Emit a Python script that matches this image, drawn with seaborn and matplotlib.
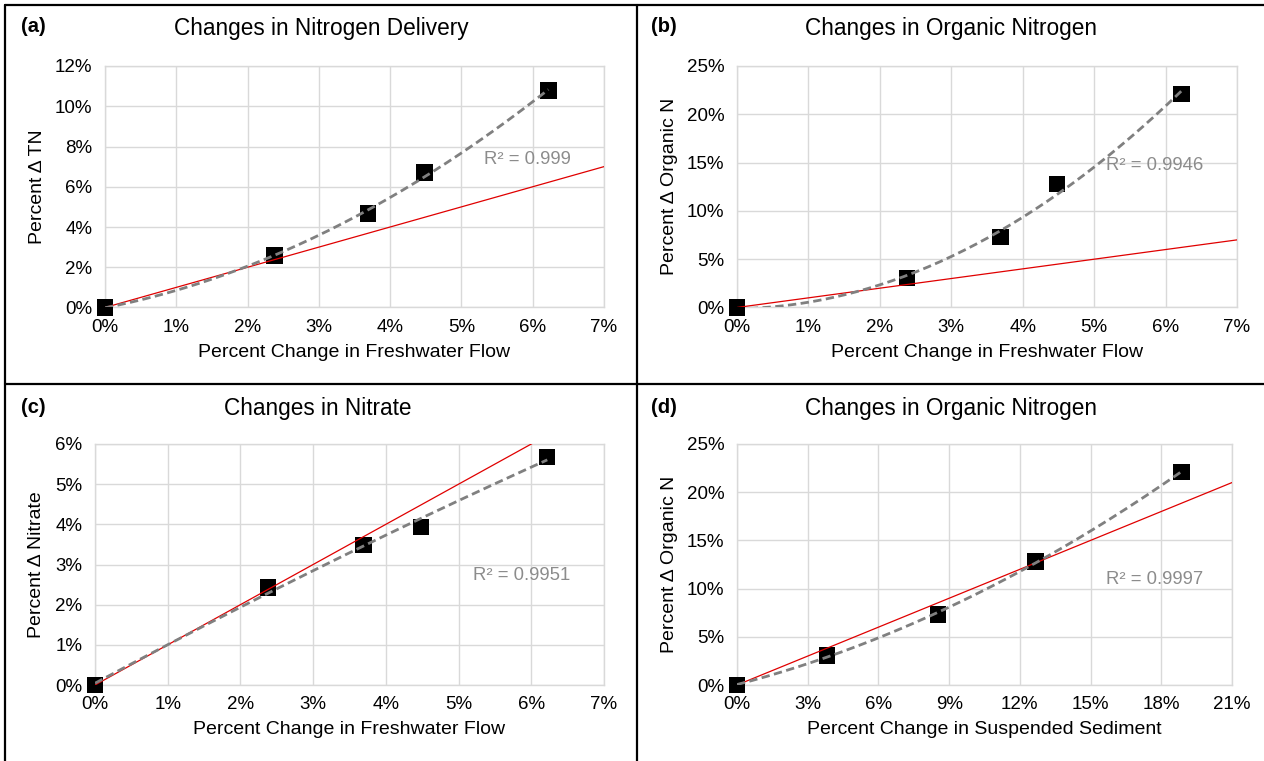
import numpy as np
import pandas as pd
import matplotlib
matplotlib.use("Agg")
import matplotlib.pyplot as plt
from matplotlib.lines import Line2D
import seaborn as sns

# ---- data (percent changes relative to the base scenario) ----
flow_change = [0.0, 2.38, 3.69, 4.48, 6.22]          # freshwater flow
sediment_change = [0.0, 3.83, 8.52, 12.66, 18.85]    # suspended sediment

tn_change = [0.0, 2.59, 4.68, 6.70, 10.78]           # total nitrogen delivery
organic_n_change = [0.0, 3.06, 7.30, 12.80, 22.10]   # organic nitrogen
nitrate_change = [0.0, 2.43, 3.49, 3.94, 5.68]       # nitrate

panel_tags = ["(a)", "(b)", "(c)", "(d)"]
titles = ["Changes in Nitrogen Delivery", "Changes in Organic Nitrogen",
          "Changes in Nitrate", "Changes in Organic Nitrogen"]
x_labels = ["Percent Change in Freshwater Flow", "Percent Change in Freshwater Flow",
            "Percent Change in Freshwater Flow", "Percent Change in Suspended Sediment"]
y_labels = ["Percent \u0394 TN", "Percent \u0394 Organic N",
            "Percent \u0394 Nitrate", "Percent \u0394 Organic N"]
r2_labels = ["R\u00b2 = 0.999", "R\u00b2 = 0.9946", "R\u00b2 = 0.9951", "R\u00b2 = 0.9997"]

flow_ticks = [0, 1, 2, 3, 4, 5, 6, 7]
sediment_ticks = [0, 3, 6, 9, 12, 15, 18, 21]
tn_ticks = [0, 2, 4, 6, 8, 10, 12]
organic_ticks = [0, 5, 10, 15, 20, 25]
nitrate_ticks = [0, 1, 2, 3, 4, 5, 6]

# ---- styling ----
sns.set_theme(style="white")
plt.rcParams["font.family"] = ["Liberation Sans", "DejaVu Sans"]

W, H = 1264, 761
fig = plt.figure(figsize=(W / 100, H / 100), dpi=100)
fig.patch.set_facecolor("white")


def fx(px):
    return px / W


def fy(py):
    return 1 - py / H


GRID = "#d9d9d9"
TREND = "#808080"
ONE_TO_ONE = "#e00000"

# per panel: data, ticks, plot box in pixels (left, top, right, bottom), text anchors
panels = [
    dict(x=flow_change, y=tn_change, xt=flow_ticks, yt=tn_ticks,
         box=(105, 66, 604, 307.5), tag=(33, 27), title=(321, 28), r2=(527, 160), ylab=38),
    dict(x=flow_change, y=organic_n_change, xt=flow_ticks, yt=organic_ticks,
         box=(737, 66, 1237, 307.5), tag=(664, 27), title=(951, 28), r2=(1155, 165), ylab=669),
    dict(x=flow_change, y=nitrate_change, xt=flow_ticks, yt=nitrate_ticks,
         box=(95, 444, 604, 685), tag=(33, 407), title=(318, 408), r2=(522, 575), ylab=37),
    dict(x=sediment_change, y=organic_n_change, xt=sediment_ticks, yt=organic_ticks,
         box=(737, 444, 1232, 685), tag=(664, 407), title=(951, 408), r2=(1155, 580), ylab=669),
]

for i, p in enumerate(panels):
    left, top, right, bottom = p["box"]
    ax = fig.add_axes([fx(left), fy(bottom), (right - left) / W, (bottom - top) / H])
    ax.set_facecolor("white")

    pts = pd.DataFrame({"x": p["x"], "y": p["y"]})

    # observed responses
    sns.scatterplot(data=pts, x="x", y="y", marker="s", s=140, color="black",
                    edgecolor="none", linewidth=0, ax=ax, zorder=3, clip_on=False)

    # 1:1 reference line
    ref = pd.DataFrame({"x": [0, p["xt"][-1]], "y": [0, p["xt"][-1]]})
    sns.lineplot(data=ref, x="x", y="y", color=ONE_TO_ONE, linewidth=0.9,
                 ax=ax, zorder=4, sort=False, estimator=None)

    # second-order polynomial trendline
    coef = np.polyfit(p["x"], p["y"], 2)
    xs = np.linspace(0, max(p["x"]), 150)
    fit = pd.DataFrame({"x": xs, "y": np.polyval(coef, xs)})
    sns.lineplot(data=fit, x="x", y="y", color=TREND, linewidth=2.0,
                 linestyle=(0, (3, 1.6)), ax=ax, zorder=5, sort=False, estimator=None)

    ax.set_xlim(0, p["xt"][-1])
    ax.set_ylim(0, p["yt"][-1])
    ax.set_xticks(p["xt"])
    ax.set_yticks(p["yt"])
    ax.set_xticklabels([f"{t}%" for t in p["xt"]])
    ax.set_yticklabels([f"{t}%" for t in p["yt"]])
    ax.tick_params(axis="both", length=0, labelsize=13.5, colors="black")
    ax.tick_params(axis="x", pad=8)
    ax.tick_params(axis="y", pad=9)
    ax.grid(True, color=GRID, linewidth=1)
    ax.set_axisbelow(True)
    for sp in ax.spines.values():
        sp.set_visible(True)
        sp.set_color(GRID)
        sp.set_linewidth(1)

    ax.set_xlabel(x_labels[i], fontsize=14, color="black")
    ax.set_ylabel(y_labels[i], fontsize=14, color="black")
    ax.xaxis.label.set_va("center")
    ax.yaxis.label.set_va("center")
    ax.xaxis.set_label_coords(0.5, -45.0 / (bottom - top))
    ax.yaxis.set_label_coords((p["ylab"] - left) / (right - left), 0.5)

    fig.text(fx(p["tag"][0]), fy(p["tag"][1]), panel_tags[i], fontsize=14.5,
             fontweight="bold", ha="center", va="center", color="black")
    fig.text(fx(p["title"][0]), fy(p["title"][1]), titles[i], fontsize=16.3,
             ha="center", va="center", color="black")
    fig.text(fx(p["r2"][0]), fy(p["r2"][1]), r2_labels[i], fontsize=13.3,
             ha="center", va="center", color="#8c8c8c")

# panel frame lines
frame = dict(color="black", linewidth=1.6, transform=fig.transFigure)
fig.add_artist(Line2D([fx(5), fx(W)], [fy(5), fy(5)], **frame))
fig.add_artist(Line2D([fx(5), fx(5)], [fy(5), fy(H)], **frame))
fig.add_artist(Line2D([fx(636.5), fx(636.5)], [fy(5), fy(H)], **frame))
fig.add_artist(Line2D([fx(5), fx(W)], [fy(383.5), fy(383.5)], **frame))

fig.savefig("out.png", dpi=100, facecolor="white")
